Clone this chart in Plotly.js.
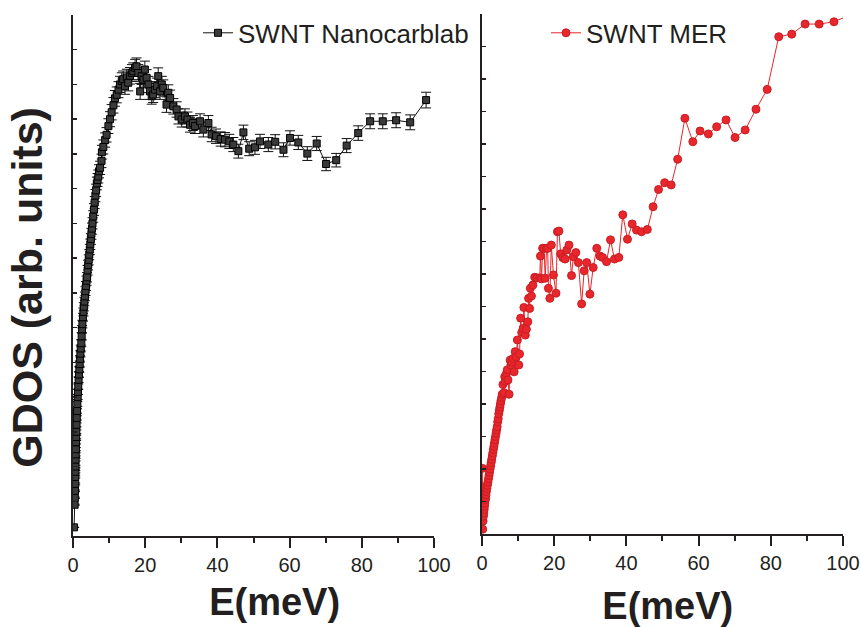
<!DOCTYPE html>
<html>
<head>
<meta charset="utf-8">
<script src="https://cdn.plot.ly/plotly-3.0.1.min.js"></script>
<style>html,body{margin:0;padding:0;background:#fff;}#chart{width:861px;height:627px;}</style>
</head>
<body>
<div id="chart"></div>
<script>
// ---- data: SWNT Nanocarblab (left panel) ----
const nanoE = [0.3,0.45,0.5,0.55,0.6,0.62,0.65,0.7,0.72,0.75,0.8,0.85,0.88,0.92,0.98,1.05,1.12,1.2,1.3,1.38,1.45,1.55,1.65,1.75,1.85,1.95,2.05,2.15,2.3,2.4,2.5,2.6,2.75,2.9,3.0,3.15,3.3,3.45,3.6,3.75,3.9,4.05,4.2,4.35,4.5,4.65,4.8,4.95,5.1,5.25,5.4,5.6,5.8,6.0,6.2,6.4,6.6,6.8,7.0,7.2,7.5,7.9,8.0,8.4,8.9,9.3,9.8,10.25,10.7,11.2,11.6,12.1,12.6,13.0,13.5,13.9,14.4,14.9,15.3,15.8,16.3,16.7,17.2,17.6,18.1,18.6,19.0,19.5,19.9,20.4,20.9,21.3,21.8,22.2,22.7,23.2,23.6,24.1,24.6,25.0,25.9,26.4,26.9,27.8,28.7,29.2,30.1,31.0,31.7,32.4,33.2,33.8,35.2,36.1,37.5,38.4,39.6,40.9,42.1,43.3,44.4,45.8,47.2,48.8,50.4,51.8,54.1,56.0,58.3,60.1,62.4,64.9,67.5,70.1,72.9,75.8,79.0,82.3,85.8,89.5,93.4,97.8];
const nanoGDOS = [0.25,0.9,1.1,1.3,1.5,1.7,1.85,2.0,2.2,2.35,2.5,2.7,2.85,3.0,3.2,3.4,3.6,3.8,4.0,4.15,4.3,4.5,4.65,4.8,4.95,5.1,5.25,5.4,5.55,5.75,5.95,6.1,6.3,6.45,6.6,6.75,6.9,7.05,7.2,7.35,7.45,7.65,7.8,7.95,8.1,8.25,8.4,8.55,8.7,8.85,9.0,9.2,9.4,9.6,9.8,9.95,10.15,10.25,10.35,10.5,10.6,10.8,11.05,11.2,11.4,11.55,11.8,12.0,12.2,12.4,12.6,12.7,12.85,13.0,13.1,13.15,12.95,13.2,13.05,13.25,13.33,13.38,13.48,13.52,13.33,12.8,13.24,13.14,13.43,13.19,13.0,12.8,12.66,12.71,12.85,12.95,13.24,12.8,13.0,12.9,12.42,12.76,12.61,12.37,12.28,12.08,11.99,12.08,11.99,11.84,11.89,11.8,11.94,11.7,11.89,11.56,11.51,11.43,11.41,11.36,11.27,11.08,11.62,11.15,11.19,11.36,11.27,11.35,11.12,11.46,11.33,11.01,11.3,10.71,10.82,11.24,11.6,11.94,11.94,11.97,11.91,12.55];

// ---- data: SWNT MER (right panel) ----
const merE = [0.1,0.15,0.2,0.3,0.4,0.5,0.6,0.7,0.8,0.9,1.0,1.1,1.2,1.35,1.5,1.65,1.8,1.95,2.1,2.25,2.4,2.55,2.7,2.85,3.0,3.15,3.3,3.45,3.6,3.75,3.9,4.05,4.2,4.35,4.5,4.65,4.8,4.95,5.1,5.25,5.45,5.6,5.8,6.1,6.3,6.5,6.8,7.0,7.2,7.5,7.8,8.0,8.3,8.6,8.9,9.2,9.5,9.8,10.2,10.4,10.7,11.0,11.4,11.6,12.0,12.3,12.7,12.9,13.2,13.4,13.7,14.1,14.6,15.2,16.0,16.2,16.5,16.8,17.2,17.5,17.9,18.2,18.4,18.8,19.2,19.8,20.5,20.9,21.3,21.8,22.4,23.0,23.5,24.1,24.8,25.3,26.0,26.7,27.6,28.3,29.0,29.9,30.8,31.8,32.7,33.4,34.5,35.6,36.7,37.9,39.0,40.3,41.6,42.8,44.2,45.8,47.4,48.9,50.6,52.4,54.2,56.2,58.4,60.4,62.7,65.0,67.6,70.1,72.9,75.9,79.0,82.2,85.8,89.5,93.4,97.5,101.5];
const merGDOS = [2.02,1.45,0.15,0.4,0.55,0.65,0.75,0.85,0.95,1.05,1.1,1.2,1.3,1.4,1.5,1.6,1.7,1.8,1.9,2.0,2.1,2.2,2.3,2.4,2.5,2.6,2.7,2.8,2.9,3.0,3.1,3.2,3.3,3.45,3.55,3.7,3.8,3.9,4.0,4.1,4.2,4.3,4.6,4.35,4.84,4.7,4.95,5.05,4.74,4.3,5.35,5.2,5.3,5.4,4.99,5.61,5.45,5.97,5.2,5.54,6.64,6.2,6.33,6.97,6.12,6.3,6.53,7.25,6.94,7.56,7.32,7.66,7.9,7.88,7.88,8.55,7.85,8.79,8.79,7.87,8.79,8.79,7.56,7.25,8.89,7.97,7.41,9.3,9.32,8.62,8.5,8.46,8.74,8.89,7.95,8.53,8.66,8.35,7.08,8.1,8.35,7.38,8.2,8.79,8.55,8.51,8.38,9.05,8.46,8.51,9.82,9.07,9.54,9.35,9.3,9.37,10.07,10.6,10.81,10.74,11.53,12.79,12.07,12.40,12.31,12.53,12.74,12.2,12.43,13.07,13.68,15.30,15.38,15.69,15.69,15.76,15.95];

const xTickVals = [0,20,40,60,80,100];
const seriesNames = ['SWNT Nanocarblab','SWNT MER'];

const FONT = 'Liberation Sans, Arial, Helvetica, sans-serif';
const INK = '#231f20';
const RED = '#e8262b';

const traces = [
  {
    x: nanoE, y: nanoGDOS, name: seriesNames[0], type: 'scatter', mode: 'lines+markers',
    xaxis: 'x', yaxis: 'y', legend: 'legend',
    line: {color: '#111', width: 1},
    marker: {symbol: 'square', size: 7, color: '#3a3a3a', line: {color: '#000', width: 1}},
    error_y: {type: 'percent', value: 1.8, visible: true, color: '#111', thickness: 1, width: 5}
  },
  {
    x: merE, y: merGDOS, name: seriesNames[1], type: 'scatter', mode: 'lines+markers',
    xaxis: 'x2', yaxis: 'y2', legend: 'legend2',
    line: {color: RED, width: 1},
    marker: {symbol: 'circle', size: 8, color: RED, line: {color: '#c81e24', width: 1}}
  }
];

function xAxis(domain, anchor, titleText, standoff) {
  return {
    domain: domain, anchor: anchor, range: [0, 100],
    tickmode: 'array', tickvals: xTickVals, ticktext: xTickVals.map(String),
    ticks: 'outside', ticklen: 10, tickwidth: 2, tickcolor: INK,
    minor: {dtick: 10, ticks: 'outside', ticklen: 5, tickwidth: 2, tickcolor: INK},
    showline: true, linewidth: 2, linecolor: INK,
    showgrid: false, zeroline: false,
    tickfont: {family: FONT, size: 20, color: INK},
    title: {text: titleText, font: {family: FONT, size: 38, color: INK}, standoff: standoff}
  };
}
function yAxis(domain, anchor, top, title) {
  return {
    domain: domain, anchor: anchor, range: [0, top],
    dtick: 1, tick0: 0, ticks: 'inside', ticklen: 4, tickwidth: 1.5, tickcolor: INK,
    showticklabels: false,
    showline: true, linewidth: 2, linecolor: INK,
    showgrid: false, zeroline: false,
    title: {text: title, font: {family: FONT, size: 43, color: INK}, standoff: 15}
  };
}

const layout = {
  width: 861, height: 627,
  margin: {l: 0, r: 0, t: 0, b: 0},
  paper_bgcolor: '#fff', plot_bgcolor: '#fff',
  font: {family: FONT, color: INK},
  xaxis: xAxis([0.0848, 0.5041], 'y', '&nbsp;&nbsp;&nbsp;&nbsp;<b>E(meV)</b>', 13),
  yaxis: yAxis([0.1451, 0.9761], 'x', 15, '<b>GDOS (arb. units)</b>&nbsp;&nbsp;'),
  xaxis2: xAxis([0.5598, 0.9791], 'y2', '&nbsp;<b>E(meV)</b>', 20),
  yaxis2: yAxis([0.1483, 0.9777], 'x2', 16, ''),
  legend: {x: 198/861, xanchor: 'left', y: 0.985, yanchor: 'top', bgcolor: 'rgba(0,0,0,0)',
           font: {family: FONT, size: 26, color: INK}},
  legend2: {x: 546/861, xanchor: 'left', y: 0.985, yanchor: 'top', bgcolor: 'rgba(0,0,0,0)',
           font: {family: FONT, size: 26, color: INK}},
  showlegend: true
};

Plotly.newPlot('chart', traces, layout, {staticPlot: true, displayModeBar: false});
</script>
</body>
</html>
